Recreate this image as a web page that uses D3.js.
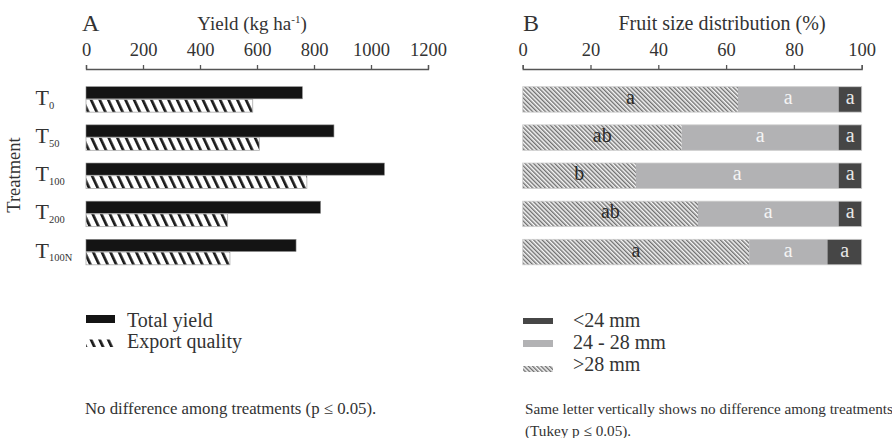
<!DOCTYPE html>
<html><head><meta charset="utf-8">
<script src="https://cdn.jsdelivr.net/npm/d3@7"></script>
<style>
body{margin:0;background:#fff;}
svg{display:block;font-family:"Liberation Serif","DejaVu Serif",serif;}
</style></head>
<body><svg id="c" width="892" height="438"></svg>
<script>
// ---- data ----
const treatments = ["0", "50", "100", "200", "100N"];
const totalYield = [759, 870, 1047, 823, 737];
const exportQuality = [585, 608, 775, 497, 505];
const yieldTicks = [0, 200, 400, 600, 800, 1000, 1200];
const sizeLarge = [63.5, 46.9, 33.4, 51.7, 66.8];   // >28 mm
const sizeMid = [29.7, 46.3, 59.8, 41.5, 23.1];     // 24 - 28 mm
const sizeSmall = [6.8, 6.8, 6.8, 6.8, 10.1];       // <24 mm
const lettersLarge = ["a", "ab", "b", "ab", "a"];
const lettersMid = ["a", "a", "a", "a", "a"];
const lettersSmall = ["a", "a", "a", "a", "a"];
const pctTicks = [0, 20, 40, 60, 80, 100];

const svg = d3.select("#c");
const TXT = "#333";
const defs = svg.append("defs");
// hatch for panel A
defs.append("pattern").attr("id","hA").attr("patternUnits","userSpaceOnUse")
  .attr("width",7.8).attr("height",10).attr("patternTransform","rotate(-25)")
  .call(p=>{p.append("rect").attr("width",7.8).attr("height",10).attr("fill","#fff");
            p.append("rect").attr("x",0).attr("width",2.7).attr("height",10).attr("fill","#1a1a1a");});
// hatch for panel B
defs.append("pattern").attr("id","hB").attr("patternUnits","userSpaceOnUse")
  .attr("width",3).attr("height",10).attr("patternTransform","rotate(-45)")
  .call(p=>{p.append("rect").attr("width",3).attr("height",10).attr("fill","#f6f6f6");
            p.append("rect").attr("x",0).attr("width",1.4).attr("height",10).attr("fill","#707070");});

const y = d3.scaleBand().domain(treatments).range([86.7, 264.8]).paddingInner(0.333).paddingOuter(0);
const sub = d3.scaleBand().domain(["total","export"]).range([0, y.bandwidth()]);

// ---------- Panel A ----------
const xA = d3.scaleLinear().domain([0, 1200]).range([86, 428]);
const gA = svg.append("g");
const axA = gA.append("g").attr("transform","translate(0,69)")
  .call(d3.axisTop(xA).tickValues(yieldTicks).tickFormat(d3.format("d")).tickSize(4).tickSizeOuter(4).tickPadding(9));
axA.selectAll("path,line").attr("stroke","#555").attr("stroke-width",1.3);
axA.selectAll("text").attr("font-size",18.5).attr("fill",TXT).attr("font-family","Liberation Serif");

gA.append("text").attr("x",82).attr("y",31).attr("font-size",24).attr("fill",TXT).text("A");
const tA = gA.append("text").attr("x",252).attr("y",30).attr("text-anchor","middle").attr("font-size",19).attr("fill",TXT);
tA.append("tspan").text("Yield (kg ha");
tA.append("tspan").attr("font-size",11).attr("dy",-7).text("-1");
tA.append("tspan").attr("dy",7).text(")");

gA.selectAll(".tot").data(treatments).join("rect")
  .attr("x",xA(0)).attr("y",(d)=>y(d)+sub("total"))
  .attr("width",(d,i)=>xA(totalYield[i])-xA(0)).attr("height",sub.bandwidth()-0.6)
  .attr("fill","#141414").attr("stroke","#888").attr("stroke-width",0.6);
gA.selectAll(".exp").data(treatments).join("rect")
  .attr("x",xA(0)).attr("y",(d)=>y(d)+sub("export"))
  .attr("width",(d,i)=>xA(exportQuality[i])-xA(0)).attr("height",sub.bandwidth())
  .attr("fill","url(#hA)").attr("stroke","#aaa").attr("stroke-width",0.8);

// category labels
const lab = gA.selectAll(".lab").data(treatments).join("text")
  .attr("x",35.5).attr("y",d=>y(d)+y.bandwidth()/2+5.5).attr("fill",TXT).attr("font-size",22);
lab.append("tspan").text("T");
lab.append("tspan").attr("font-size",10.5).attr("dy",3.7).text(d=>d);

gA.append("text").attr("transform","translate(20,175) rotate(-90)").attr("text-anchor","middle")
  .attr("font-size",18.5).attr("fill",TXT).text("Treatment");

// legend A
gA.append("rect").attr("x",86).attr("y",315).attr("width",29).attr("height",8).attr("fill","#141414");
gA.append("rect").attr("x",86).attr("y",339.5).attr("width",29).attr("height",7.5).attr("fill","url(#hA)");
gA.append("text").attr("x",127).attr("y",327).attr("font-size",20).attr("fill",TXT).text("Total yield");
gA.append("text").attr("x",127).attr("y",348).attr("font-size",20).attr("fill",TXT).text("Export quality");
gA.append("text").attr("x",85).attr("y",414).attr("font-size",16.8).attr("fill",TXT).text("No difference among treatments (p \u2264 0.05).");

// ---------- Panel B ----------
const xB = d3.scaleLinear().domain([0, 100]).range([522.7, 861.7]);
const gB = svg.append("g");
const axB = gB.append("g").attr("transform","translate(0,69)")
  .call(d3.axisTop(xB).tickValues(pctTicks).tickSize(4).tickSizeOuter(4).tickPadding(9));
axB.selectAll("path,line").attr("stroke","#555").attr("stroke-width",1.3);
axB.selectAll("text").attr("font-size",18.5).attr("fill",TXT).attr("font-family","Liberation Serif");
gB.append("text").attr("x",523).attr("y",31).attr("font-size",24).attr("fill",TXT).text("B");
gB.append("text").attr("x",722).attr("y",30).attr("text-anchor","middle").attr("font-size",20).attr("fill",TXT).text("Fruit size distribution (%)");

const segs = [
  {vals:sizeLarge, letters:lettersLarge, fill:"url(#hB)", tc:"#2a2a2a"},
  {vals:sizeMid, letters:lettersMid, fill:"#b2b2b4", tc:"#f4f4f4"},
  {vals:sizeSmall, letters:lettersSmall, fill:"#464646", tc:"#e8e8e8"}
];
treatments.forEach((t,i)=>{
  let acc = 0;
  segs.forEach(s=>{
    const v = s.vals[i];
    gB.append("rect").attr("x",xB(acc)).attr("y",y(t)).attr("width",xB(acc+v)-xB(acc))
      .attr("height",y.bandwidth()).attr("fill",s.fill);
    gB.append("text").attr("x",(xB(acc)+xB(acc+v))/2).attr("y",y(t)+y.bandwidth()/2+4.5)
      .attr("text-anchor","middle").attr("font-size",20).attr("fill",s.tc).text(s.letters[i]);
    acc += v;
  });
  gB.append("rect").attr("x",xB(0)).attr("y",y(t)).attr("width",xB(100)-xB(0)).attr("height",y.bandwidth())
    .attr("fill","none").attr("stroke","#ccc").attr("stroke-width",0.8);
});

// legend B
gB.append("rect").attr("x",523).attr("y",318).attr("width",30).attr("height",6).attr("fill","#464646");
gB.append("rect").attr("x",523).attr("y",340).attr("width",30).attr("height",7).attr("fill","#b2b2b4");
gB.append("rect").attr("x",523).attr("y",366).attr("width",30).attr("height",6).attr("fill","url(#hB)");
gB.append("text").attr("x",573).attr("y",327).attr("font-size",20).attr("fill",TXT).text("<24 mm");
gB.append("text").attr("x",573).attr("y",349).attr("font-size",20).attr("fill",TXT).text("24 - 28 mm");
gB.append("text").attr("x",573).attr("y",371).attr("font-size",20).attr("fill",TXT).text(">28 mm");
gB.append("text").attr("x",525).attr("y",414).attr("font-size",15.2).attr("fill",TXT).text("Same letter vertically shows no difference among treatments");
gB.append("text").attr("x",525).attr("y",436).attr("font-size",15.2).attr("fill",TXT).text("(Tukey p \u2264 0.05).");
</script></body></html>
